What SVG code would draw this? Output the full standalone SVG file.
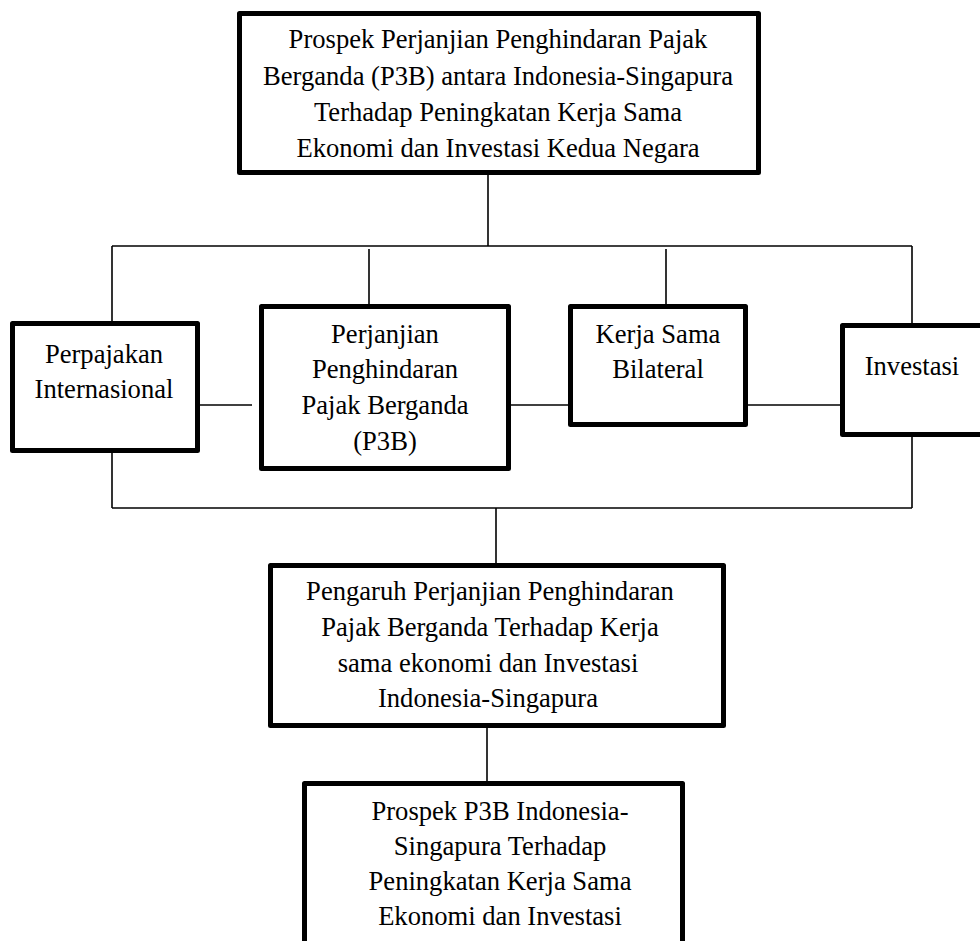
<svg xmlns="http://www.w3.org/2000/svg" width="980" height="941" viewBox="0 0 980 941">
<style>
.box{fill:#fff;stroke:#000;stroke-width:5;stroke-linejoin:round}
.c line{stroke:#000;stroke-width:1.6}
text{font-family:"Liberation Serif","Times New Roman",serif;font-size:26.6px;fill:#000;text-anchor:middle}
</style>
<rect width="980" height="941" fill="#fff"/>
<g id="connectors" class="c">
<line x1="488" y1="175" x2="488" y2="246"/>
<line x1="112" y1="246" x2="912" y2="246"/>
<line x1="112" y1="246" x2="112" y2="321"/>
<line x1="369" y1="249" x2="369" y2="304"/>
<line x1="666" y1="249" x2="666" y2="304"/>
<line x1="912" y1="246" x2="912" y2="323"/>
<line x1="200" y1="405" x2="252" y2="405"/>
<line x1="498" y1="405" x2="568" y2="405"/>
<line x1="748" y1="405" x2="840" y2="405"/>
<line x1="112" y1="453" x2="112" y2="508"/>
<line x1="912" y1="437" x2="912" y2="508"/>
<line x1="112" y1="508" x2="912" y2="508"/>
<line x1="496" y1="508" x2="496" y2="563"/>
<line x1="487" y1="728" x2="487" y2="781"/>
</g>
<g id="top">
<rect class="box" x="239.5" y="13.5" width="519" height="159"/>
<text x="498" y="48">Prospek Perjanjian Penghindaran Pajak</text>
<text x="498" y="84.5">Berganda (P3B) antara Indonesia-Singapura</text>
<text x="498" y="121">Terhadap Peningkatan Kerja Sama</text>
<text x="498" y="157">Ekonomi dan Investasi Kedua Negara</text>
</g>
<g id="perpajakan">
<rect class="box" x="12.5" y="323.5" width="185" height="127"/>
<text x="104" y="363">Perpajakan</text>
<text x="104" y="398">Internasional</text>
</g>
<g id="p3b">
<rect class="box" x="261.5" y="306.5" width="247" height="162"/>
<text x="385" y="343">Perjanjian</text>
<text x="385" y="378">Penghindaran</text>
<text x="385" y="414">Pajak Berganda</text>
<text x="385" y="450">(P3B)</text>
</g>
<g id="kerjasama">
<rect class="box" x="570.5" y="306.5" width="175" height="118"/>
<text x="658" y="343">Kerja Sama</text>
<text x="658" y="378">Bilateral</text>
</g>
<g id="investasi">
<rect class="box" x="842.5" y="325.5" width="150" height="109"/>
<text x="912" y="375">Investasi</text>
</g>
<g id="pengaruh">
<rect class="box" x="270.5" y="565.5" width="453" height="160"/>
<text x="490" y="600">Pengaruh Perjanjian Penghindaran</text>
<text x="490" y="636">Pajak Berganda Terhadap Kerja</text>
<text x="488" y="672">sama ekonomi dan Investasi</text>
<text x="488" y="707">Indonesia-Singapura</text>
</g>
<g id="prospek">
<rect class="box" x="304.5" y="783.5" width="378" height="200"/>
<text x="500" y="820">Prospek P3B Indonesia-</text>
<text x="500" y="855">Singapura Terhadap</text>
<text x="500" y="890">Peningkatan Kerja Sama</text>
<text x="500" y="925">Ekonomi dan Investasi</text>
</g>
</svg>
